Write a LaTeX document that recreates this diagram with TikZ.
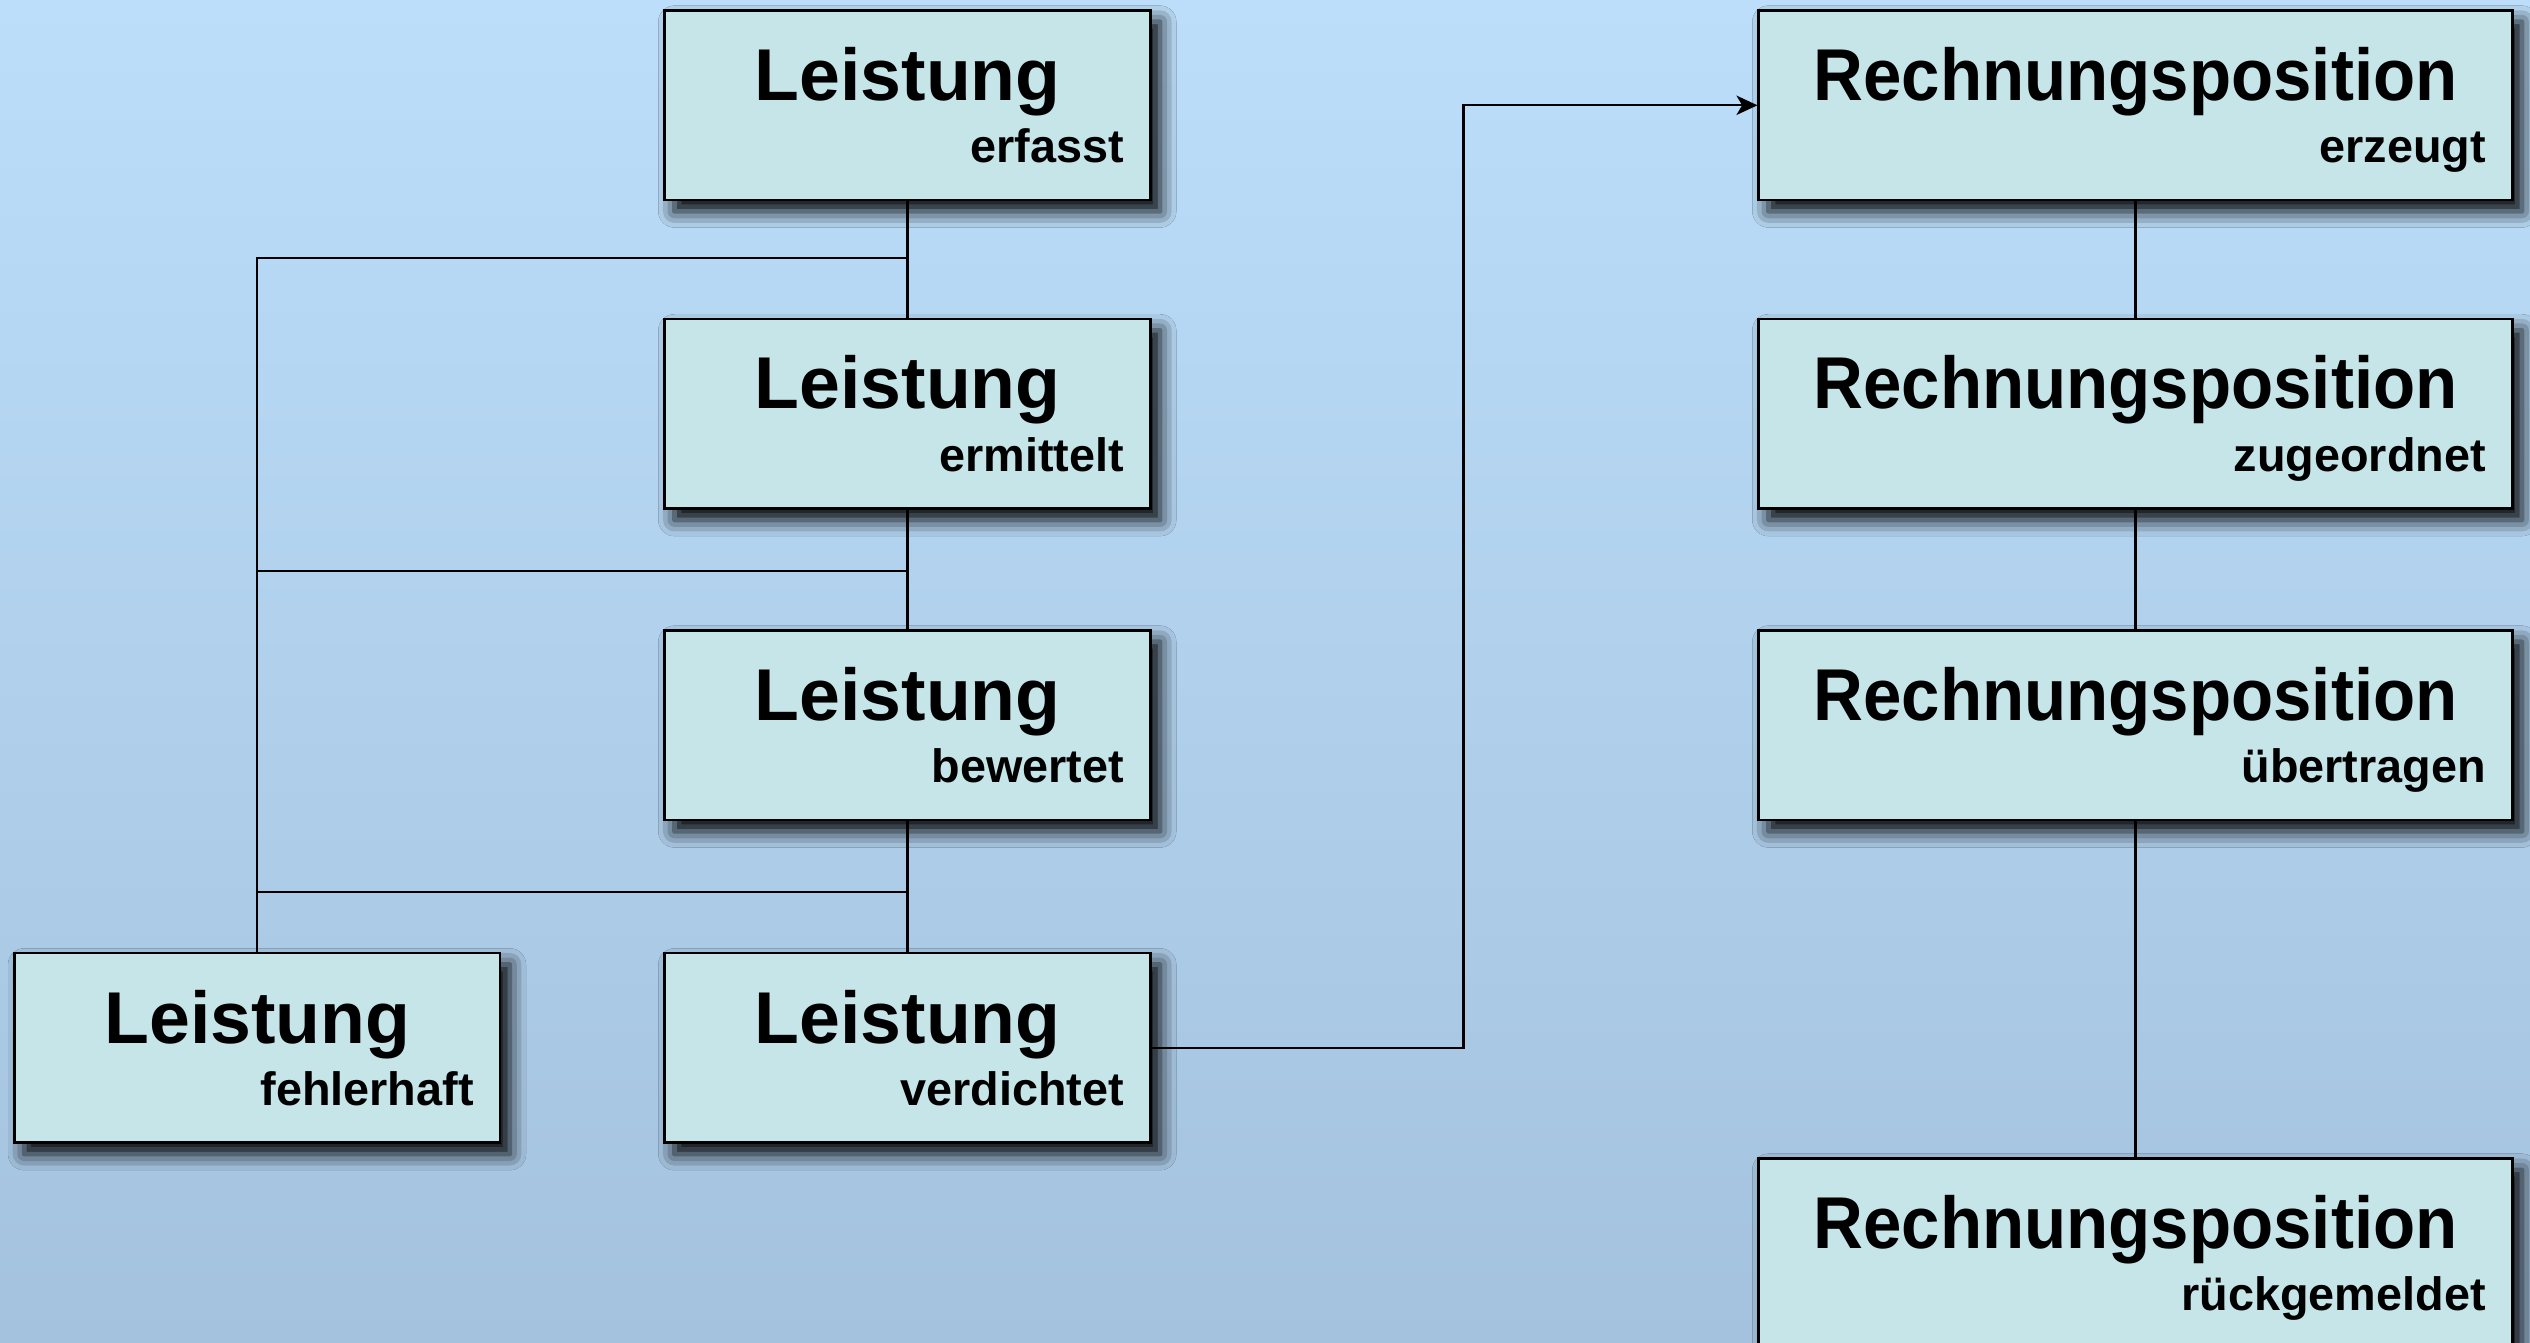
\documentclass[tikz,border=0pt]{standalone}
\usepackage{fontspec}
\usepackage{graphicx}
\setmainfont{Liberation Sans}
\usetikzlibrary{shadows.blur,arrows.meta,calc}

\definecolor{bgtop}{RGB}{188,222,250}
\definecolor{bgbot}{RGB}{164,194,222}
\definecolor{boxfill}{RGB}{197,229,232}

\tikzset{
  stagebox/.style={draw=black, line width=1.6pt, fill=boxfill, rectangle,
    inner sep=0pt, minimum height=117.5pt,
    blur shadow={shadow xshift=6pt, shadow yshift=-7pt,
      shadow blur radius=10pt, shadow opacity=100}},
  narrowbox/.style={stagebox, minimum width=301pt},
  widebox/.style={stagebox, minimum width=467pt},
  titletext/.style={font=\bfseries\fontsize{45.5}{50}\selectfont,
    inner sep=0pt, anchor=base},
  subtext/.style={font=\bfseries\fontsize{29}{32}\selectfont,
    inner sep=0pt, anchor=base east},
  link/.style={line width=1.4pt, draw=black},
  arrowlink/.style={link, -{Stealth[length=13pt,width=12pt,inset=3.5pt]}},
}

% one state box: name, box style, centre, title, state
\newcommand\placestage[5]{%
  \node[#2] (#1) at (#3) {};
  \node[titletext] (#1-t) at ($(#1.north)+(0,56.5)$) {#4};
  \node[subtext] (#1-s) at ($(#1.north east)+(-17,95)$) {#5};
}

\begin{document}
\begin{tikzpicture}[x=1pt,y=-1pt]
  \useasboundingbox (0,0) rectangle (1568,832);
  \shade[top color=bgtop, bottom color=bgbot] (0,0) rectangle (1568,832);

  % Leistung states
  \placestage{b1}{narrowbox}{562.5,65.25}{Leistung}{erfasst}
  \placestage{b2}{narrowbox}{562.5,256.5}{Leistung}{ermittelt}
  \placestage{b3}{narrowbox}{562.5,449.5}{Leistung}{bewertet}
  \placestage{b4}{narrowbox}{159.5,649.5}{Leistung}{fehlerhaft}
  \placestage{b5}{narrowbox}{562.5,649.5}{Leistung}{verdichtet}

  % Rechnungsposition states
  \placestage{r1}{widebox}{1323.5,65.25}{\scalebox{0.94}[1]{Rechnungsposition}}{erzeugt}
  \placestage{r2}{widebox}{1323.5,256.5}{\scalebox{0.94}[1]{Rechnungsposition}}{zugeordnet}
  \placestage{r3}{widebox}{1323.5,449.5}{\scalebox{0.94}[1]{Rechnungsposition}}{übertragen}
  \placestage{r4}{widebox}{1323.5,776.75}{\scalebox{0.94}[1]{Rechnungsposition}}{rückgemeldet}

  % main sequence of Leistung
  \draw[link] (b1.south) -- (b2.north);
  \draw[link] (b2.south) -- (b3.north);
  \draw[link] (b3.south) -- (b5.north);

  % branches to the error state
  \draw[link] (b1.south) -- (b1.south |- 0,160) -| (b4.north);
  \draw[link] (b2.south) -- (b2.south |- 0,354) -| (b4.north);
  \draw[link] (b3.south) -- (b3.south |- 0,553) -| (b4.north);

  % hand-over to the invoice item
  \coordinate (bend) at (907,0);
  \draw[arrowlink] (b5.east) -- (b5.east -| bend) |- (r1.west);

  % sequence of Rechnungsposition
  \draw[link] (r1.south) -- (r2.north);
  \draw[link] (r2.south) -- (r3.north);
  \draw[link] (r3.south) -- (r4.north);
\end{tikzpicture}
\end{document}
